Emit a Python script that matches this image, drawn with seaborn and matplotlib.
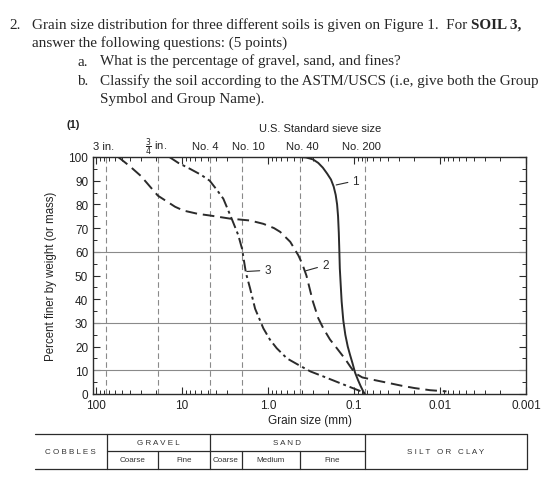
import numpy as np
import pandas as pd
import seaborn as sns
import matplotlib.pyplot as plt
from matplotlib.ticker import LogLocator, NullFormatter, MultipleLocator

# grain size (mm) and percent finer
soil1_mm = [0.425, 0.36, 0.30, 0.26, 0.23, 0.205, 0.185, 0.172, 0.163, 0.157, 0.153, 0.150,
            0.148, 0.146, 0.142, 0.139, 0.133, 0.126, 0.118, 0.111, 0.104, 0.097, 0.090,
            0.084, 0.079, 0.075]
soil1_pct = [100, 99.8, 99, 97.5, 95.5, 93, 90.5, 87.5, 84, 80, 75, 68,
             61, 53, 45, 39, 31, 25, 20, 16.5, 13, 9, 6,
             3.5, 1.5, 0]

soil2_mm = [55, 40, 30, 19.05, 12, 9.6, 6.5, 4.7, 2.76, 1.61, 1.13, 0.85, 0.72, 0.55, 0.443,
            0.40, 0.357, 0.30, 0.26, 0.227, 0.19, 0.158, 0.125, 0.11, 0.097, 0.08, 0.06,
            0.039, 0.028, 0.0197, 0.013, 0.0084]
soil2_pct = [100, 96, 92, 83.7, 79, 77.4, 76, 75.3, 74, 73.2, 71.8, 70, 68.4, 64.2, 58.5,
             55, 50, 39, 32, 27.7, 23, 19.3, 14.5, 11.5, 8.8, 7, 6,
             4.6, 3.5, 2.5, 1.6, 1.1]

soil3_mm = [14, 11, 8.05, 6, 4.75, 3.9, 3.3, 2.64, 2.21, 2.0, 1.80, 1.61, 1.41, 1.13, 0.95,
            0.79, 0.6, 0.443, 0.32, 0.227, 0.16, 0.116, 0.081, 0.075]
soil3_pct = [100, 97.5, 95, 92.5, 90, 86, 82.4, 74, 67, 61.3, 51, 44.5, 36, 27.7, 23,
             19.3, 15, 12.3, 9.5, 7.4, 5.2, 3.2, 1, 0]

sieve_names = ['3 in.', r'$\frac{3}{4}$ in.', 'No. 4', 'No. 10', 'No. 40', 'No. 200']
sieve_mm = [76.2, 19.05, 4.75, 2.0, 0.425, 0.075]
grid_pct = [60, 30, 10]
xtick_vals = [100, 10, 1, 0.1, 0.01, 0.001]
xtick_labels = ['100', '10', '1.0', '0.1', '0.01', '0.001']

ink = '#2b2b2b'
W, H = 560, 481


def build_df():
    frames = []
    for name, x, y in [('1', soil1_mm, soil1_pct), ('2', soil2_mm, soil2_pct), ('3', soil3_mm, soil3_pct)]:
        frames.append(pd.DataFrame({'size_mm': x, 'percent': y, 'soil': name}))
    return pd.concat(frames, ignore_index=True)


sns.set_style('ticks')
plt.rcParams['font.family'] = ['Liberation Sans', 'DejaVu Sans']
plt.rcParams['mathtext.fontset'] = 'dejavusans'

fig = plt.figure(figsize=(W / 100, H / 100), dpi=100)
ax = fig.add_axes([93 / W, 1 - 395 / H, 433 / W, 237 / H])

# sieve lines and grid
for s in sieve_mm:
    ax.axvline(s, color='#8a8a8a', lw=0.8, ls=(0, (5, 3)), zorder=1)
for g in grid_pct:
    ax.axhline(g, color='#8a8a8a', lw=0.8, zorder=1)

df = build_df()
sns.lineplot(data=df, x='size_mm', y='percent', style='soil',
             dashes={'1': '', '2': (6, 3), '3': (6, 2, 1.5, 2)},
             color=ink, lw=1.4, sort=False, estimator=None, legend=False, ax=ax, zorder=3)

ax.set_xscale('log')
ax.set_xlim(108, 0.001)
ax.set_ylim(0, 100)
ax.set_xticks(xtick_vals)
ax.set_xticklabels(xtick_labels)
ax.xaxis.set_minor_locator(LogLocator(base=10, subs=np.arange(2, 10)))
ax.xaxis.set_minor_formatter(NullFormatter())
ax.yaxis.set_major_locator(MultipleLocator(10))
ax.yaxis.set_minor_locator(MultipleLocator(5))
ax.tick_params(which='both', direction='in', top=True, right=True, color=ink, labelsize=8.5,
               labelcolor='#222222')
ax.tick_params(which='major', length=5, width=0.8)
ax.tick_params(which='minor', length=3, width=0.7)
for sp in ax.spines.values():
    sp.set_color(ink)
    sp.set_linewidth(1.0)

ax.set_xlabel('Grain size (mm)', fontsize=8.5, color='#222222', labelpad=2)
ax.set_ylabel('Percent finer by weight (or mass)', fontsize=8.3, color='#222222', labelpad=8)

# curve labels
for lab, xy, xt in [('1', (0.161, 88.2), (0.104, 90)),
                    ('2', (0.362, 52), (0.235, 54.3)),
                    ('3', (1.76, 51.7), (1.1, 52.2))]:
    ax.annotate(lab, xy=xy, xytext=xt, fontsize=8.5, color=ink, va='center', ha='left',
                arrowprops=dict(arrowstyle='-', lw=0.8, color=ink, shrinkA=1, shrinkB=0))

# sieve labels on top (small nudges so they don't crowd)
nudge_pt = [-2, -1.5, -3.5, 4.5, 1.5, -2]
for name, s, dx in zip(sieve_names, sieve_mm, nudge_pt):
    ax.annotate(name, xy=(s, 1.045), xycoords=ax.get_xaxis_transform(),
                xytext=(dx, 0), textcoords='offset points', ha='center', va='center',
                fontsize=8, color='#222222', annotation_clip=False)
fig.text(320 / W, 1 - 129 / H, 'U.S. Standard sieve size', ha='center', va='center',
         fontsize=8, color='#222222')
fig.text(73 / W, 1 - 125 / H, '(1)', ha='center', va='center', fontsize=8,
         fontweight='bold', color='#222222')

# classification band below
tab = fig.add_axes([93 / W, 1 - 469.7 / H, 433 / W, (469.7 - 434.9) / H])
tab.set_xscale('log')
tab.set_xlim(108, 0.001)
tab.set_ylim(0, 2)
tab.axis('off')
left_edge, right_edge = 510, 0.00097
lk = dict(color=ink, lw=0.9, clip_on=False)
tab.plot([left_edge, right_edge], [2, 2], **lk)
tab.plot([left_edge, right_edge], [0, 0], **lk)
tab.plot([75, 0.075], [1, 1], **lk)
for b in [75, 4.75, 0.075, right_edge]:
    tab.plot([b, b], [0, 2], **lk)
for b in [19.05, 2.0, 0.425]:
    tab.plot([b, b], [0, 1], **lk)

tk = dict(ha='center', va='center', fontsize=5.8, color='#333333')


def gmid(a, b):
    return np.sqrt(a * b)


tab.text(gmid(left_edge, 75), 1, 'C O B B L E S', **tk)
tab.text(gmid(75, 4.75), 1.5, 'G R A V E L', **tk)
tab.text(gmid(4.75, 0.075), 1.5, 'S A N D', **tk)
tab.text(gmid(0.075, right_edge), 1, 'S I L T   O R   C L A Y', **tk)
for lab, a, b in [('Coarse', 75, 19.05), ('Fine', 19.05, 4.75), ('Coarse', 4.75, 2.0),
                  ('Medium', 2.0, 0.425), ('Fine', 0.425, 0.075)]:
    tab.text(gmid(a, b), 0.5, lab, **tk)

# question text
serif = ['Liberation Serif', 'DejaVu Serif']
qs = 10.9
fig.text(9 / W, 1 - 29 / H, '2.', family=serif, fontsize=qs, va='baseline')
t1 = fig.text(32 / W, 1 - 29 / H,
              'Grain size distribution for three different soils is given on Figure 1.  For',
              family=serif, fontsize=qs, va='baseline')
fig.canvas.draw()
bb = t1.get_window_extent()
fig.text((bb.x1 + 4) / W, 1 - 29 / H, 'SOIL 3,', family=serif, fontsize=qs,
         fontweight='bold', va='baseline')
fig.text(32 / W, 1 - 47 / H, 'answer the following questions: (5 points)', family=serif,
         fontsize=qs, va='baseline')
fig.text(77 / W, 1 - 65.5 / H, 'a.', family=serif, fontsize=qs, va='baseline')
fig.text(100.5 / W, 1 - 65.5 / H, 'What is the percentage of gravel, sand, and fines?',
         family=serif, fontsize=qs, va='baseline')
fig.text(77 / W, 1 - 85 / H, 'b.', family=serif, fontsize=qs, va='baseline')
fig.text(100.5 / W, 1 - 85 / H,
         'Classify the soil according to the ASTM/USCS (i.e, give both the Group',
         family=serif, fontsize=qs, va='baseline')
fig.text(100.5 / W, 1 - 102.5 / H, 'Symbol and Group Name).', family=serif, fontsize=qs,
         va='baseline')

fig.savefig('out.png', dpi=100, facecolor='white')
